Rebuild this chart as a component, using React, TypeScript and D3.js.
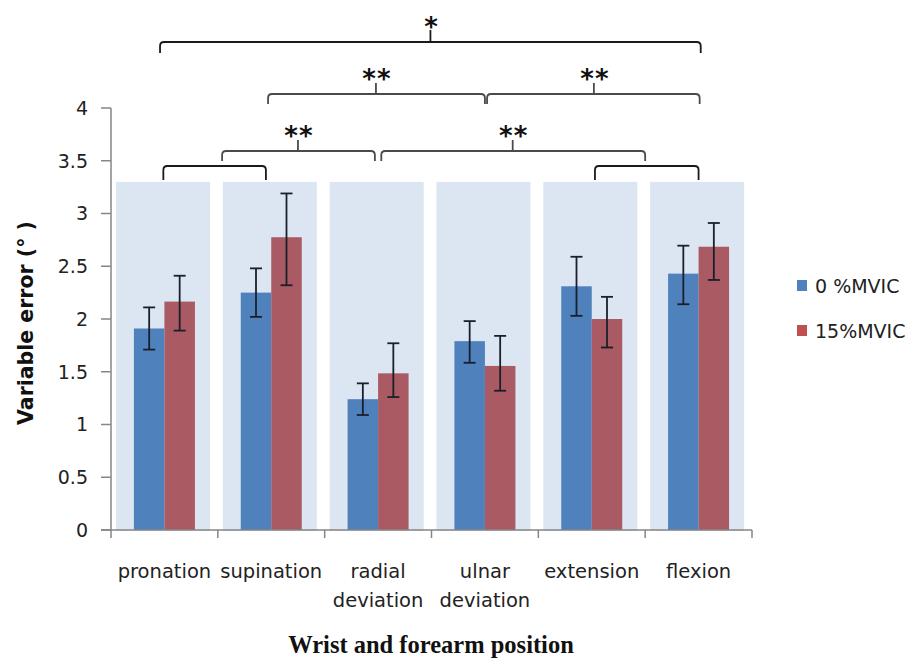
import React from "react";
import * as d3 from "d3";

const categories = [["pronation"], ["supination"], ["radial", "deviation"], ["ulnar", "deviation"], ["extension"], ["flexion"]];
const seriesNames = ["0 %MVIC", "15%MVIC"];
const mvic0 = [1.91, 2.25, 1.24, 1.79, 2.31, 2.43];
const mvic0Lo = [1.71, 2.02, 1.09, 1.585, 2.03, 2.14];
const mvic0Hi = [2.11, 2.48, 1.39, 1.98, 2.59, 2.695];
const mvic15 = [2.165, 2.775, 1.485, 1.555, 2.0, 2.685];
const mvic15Lo = [1.89, 2.32, 1.26, 1.32, 1.73, 2.37];
const mvic15Hi = [2.41, 3.19, 1.77, 1.84, 2.21, 2.91];
const yTicks = [0, 0.5, 1, 1.5, 2, 2.5, 3, 3.5, 4];
const bgLevel = 3.3;
// brackets: [from, to, mid, level, label] in category-position units
const brackets: [number, number, number | null, number, string][] = [
  [0.459, 5.52, 2.99, 0, "*"],
  [1.47, 3.5, 2.48, 1, "**"],
  [3.52, 5.51, 4.52, 1, "**"],
  [1.04, 2.47, 1.75, 2, "**"],
  [2.53, 5.0, 3.76, 2, "**"],
  [0.49, 1.45, null, 3, ""],
  [4.53, 5.5, null, 3, ""],
];

const W = 911;
const H = 660;
const X0 = 111;
const X1 = 752;
const Y0 = 530;
const Y1 = 108;
const levels = [
  { y: 42, end: 53, tick: 30, star: 21, color: "#1a1a1a" },
  { y: 94, end: 104, tick: 83, star: 73, color: "#4a4a4a" },
  { y: 151, end: 161, tick: 140, star: 130, color: "#4a4a4a" },
  { y: 166, end: 180, tick: 166, star: 0, color: "#1a1a1a" },
];
const BLUE = "#4F81BD";
const RED_BAR = "#A95A62";
const RED_LEG = "#C0504D";
const BG = "#DCE6F2";
const SANS = "'DejaVu Sans', Verdana, sans-serif";

export default function App() {
  const idx = categories.map((_, i) => String(i));
  const x = d3.scaleBand<string>().domain(idx).range([X0, X1]).padding(0);
  const bw = x.bandwidth();
  const y = d3.scaleLinear().domain([0, 4]).range([Y0, Y1]);
  const inner = d3.scaleBand<string>().domain(["0", "1"]).range([bw / 2 - 30.5, bw / 2 + 30.5]);
  const pos = d3.scaleLinear().domain([0, categories.length]).range([X0, X1]);
  const series = [
    { v: mvic0, lo: mvic0Lo, hi: mvic0Hi, c: BLUE },
    { v: mvic15, lo: mvic15Lo, hi: mvic15Hi, c: RED_BAR },
  ];
  const r = 4;
  return (
    <svg width={W} height={H} style={{ display: "block", position: "absolute", left: 0, top: 0 }} fontFamily={SANS}>
      <rect x={0} y={0} width={W} height={H} fill="#fff" />
      {idx.map((k) => (
        <rect key={"bg" + k} x={(x(k) as number) + 5} y={y(bgLevel)} width={bw * 0.88} height={Y0 - y(bgLevel) + 1} fill={BG} />
      ))}
      {series.map((s, si) =>
        idx.map((k, i) => {
          const bx = (x(k) as number) + (inner(String(si)) as number);
          return (
            <rect key={`b${si}-${i}`} x={bx} y={y(s.v[i])} width={inner.bandwidth()} height={Y0 - y(s.v[i])} fill={s.c} />
          );
        })
      )}
      {series.map((s, si) =>
        idx.map((k, i) => {
          const cx = (x(k) as number) + (inner(String(si)) as number) + inner.bandwidth() / 2;
          return (
            <g key={`e${si}-${i}`} stroke="#1b1f2b" strokeWidth={1.8}>
              <line x1={cx} x2={cx} y1={y(s.hi[i])} y2={y(s.lo[i])} />
              <line x1={cx - 6} x2={cx + 6} y1={y(s.hi[i])} y2={y(s.hi[i])} />
              <line x1={cx - 6} x2={cx + 6} y1={y(s.lo[i])} y2={y(s.lo[i])} />
            </g>
          );
        })
      )}
      {/* axes */}
      <g stroke="#868686" strokeWidth={1.5}>
        <line x1={X0} x2={X0} y1={Y1} y2={Y0} />
        <line x1={X0 - 10} x2={X1} y1={Y0} y2={Y0} />
        {yTicks.map((t) => (
          <line key={"yt" + t} x1={X0 - 10} x2={X0} y1={y(t)} y2={y(t)} />
        ))}
        {d3.range(categories.length + 1).map((i) => (
          <line key={"xt" + i} x1={pos(i)} x2={pos(i)} y1={Y0} y2={Y0 + 8} />
        ))}
      </g>
      {yTicks.map((t) => (
        <text key={"yl" + t} x={88} y={y(t)} dy="0.36em" textAnchor="end" fontSize={19} fill="#222">
          {String(t)}
        </text>
      ))}
      {categories.map((lines, i) => (
        <text key={"cl" + i} textAnchor="middle" fontSize={19.5} fill="#222">
          {lines.map((l, j) => (
            <tspan key={j} x={(x(String(i)) as number) + bw / 2} y={578 + j * 29}>
              {l}
            </tspan>
          ))}
        </text>
      ))}
      <text transform="translate(33,323) rotate(-90)" textAnchor="middle" fontSize={20.5} fontWeight="bold" fill="#111">
        Variable error (° )
      </text>
      <text x={431} y={653} textAnchor="middle" fontSize={24.5} fontWeight="bold" fontFamily="'Liberation Serif', 'Times New Roman', serif" fill="#111">
        Wrist and forearm position
      </text>
      {/* legend */}
      {seriesNames.map((n, i) => (
        <g key={"lg" + i}>
          <rect x={797} y={280 + i * 45} width={10} height={11} fill={i === 0 ? BLUE : RED_LEG} />
          <text x={815} y={286 + i * 45} dy="0.36em" fontSize={19} fill="#222">
            {n}
          </text>
        </g>
      ))}
      {/* significance brackets */}
      {brackets.map(([a, b, m, lv, label], i) => {
        const L = levels[lv];
        const xa = pos(a);
        const xb = pos(b);
        const d = `M${xa},${L.end} L${xa},${L.y + r} Q${xa},${L.y} ${xa + r},${L.y} L${xb - r},${L.y} Q${xb},${L.y} ${xb},${L.y + r} L${xb},${L.end}`;
        return (
          <g key={"br" + i}>
            <path d={d} fill="none" stroke={L.color} strokeWidth={1.8} />
            {m !== null && <line x1={pos(m)} x2={pos(m)} y1={L.y} y2={L.tick} stroke={L.color} strokeWidth={1.8} />}
            {label && m !== null && (
              <text x={pos(m) + 1} y={L.star + 15} textAnchor="middle" fontSize={26} fontWeight="bold" letterSpacing={1} fill="#111">
                {label}
              </text>
            )}
          </g>
        );
      })}
    </svg>
  );
}
